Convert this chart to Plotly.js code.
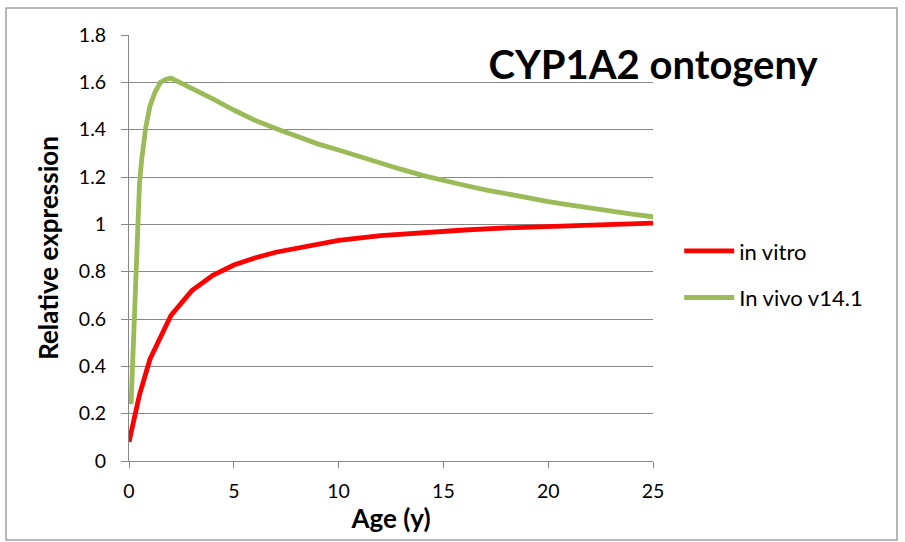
<!DOCTYPE html>
<html>
<head>
<meta charset="utf-8">
<script src="https://cdn.plot.ly/plotly-3.0.1.min.js"></script>
<style>
  body { margin: 0; background: #fff; }
  #chart { width: 905px; height: 542px; }
</style>
</head>
<body>
<div id="chart"></div>
<script>
const vitroAge = [0, 0.5, 1, 2, 3, 4, 5, 6, 7, 8, 9, 10, 12, 14, 16, 18, 20, 22, 25];
const vitroExpr = [0.08, 0.28, 0.43, 0.615, 0.72, 0.785, 0.828, 0.858, 0.882, 0.9, 0.918, 0.932, 0.952, 0.965, 0.976, 0.985, 0.992, 0.998, 1.005];

const vivoAge = [0.1, 0.2, 0.3, 0.4, 0.5, 0.6, 0.8, 1, 1.25, 1.5, 1.75, 2, 3, 4, 5, 6, 7, 8, 9, 10, 11, 12, 13, 14, 15, 16, 17, 18, 19, 20, 21, 22, 23, 24, 25];
const vivoExpr = [0.24, 0.5, 0.75, 1.03, 1.17, 1.27, 1.41, 1.5, 1.56, 1.6, 1.612, 1.618, 1.575, 1.53, 1.483, 1.44, 1.405, 1.37, 1.34, 1.314, 1.285, 1.258, 1.232, 1.207, 1.184, 1.165, 1.146, 1.128, 1.112, 1.096, 1.082, 1.068, 1.055, 1.043, 1.032];

const seriesNames = ["in vitro", "In vivo v14.1"];

const font = "Lato, Carlito, Calibri, sans-serif";
const gridColor = "#878787";

const traces = [
    {
        x: vitroAge,
        y: vitroExpr,
        name: seriesNames[0],
        mode: "lines",
        type: "scatter",
        legendgroup: "a",
        line: {color: "#ff0000", width: 4.8}
    },
    {
        x: vivoAge,
        y: vivoExpr,
        name: seriesNames[1],
        mode: "lines",
        type: "scatter",
        legendgroup: "b",
        line: {color: "#9bbb59", width: 4.8}
    }
];

const layout = {
    width: 905,
    height: 542,
    margin: {l: 129, r: 252, t: 35, b: 81},
    paper_bgcolor: "#fff",
    plot_bgcolor: "#fff",
    font: {family: font, size: 19.5, color: "#000"},
    title: {
        text: "<b>CYP1A2 ontogeny</b>",
        font: {family: font, size: 40, color: "#000"},
        xref: "paper", yref: "paper",
        x: 1, y: 0.93,
        xanchor: "center", yanchor: "middle"
    },
    xaxis: {
        range: [0, 25],
        dtick: 5,
        showgrid: false,
        zeroline: false,
        showline: true,
        linecolor: gridColor,
        linewidth: 1,
        ticks: "outside",
        ticklen: 6,
        tickcolor: gridColor,
        ticklabelstandoff: 7,
        tickfont: {size: 19.5},
        title: {text: "<b>Age (y)</b>", font: {size: 26}, standoff: 8}
    },
    yaxis: {
        range: [0, 1.8],
        dtick: 0.2,
        showgrid: true,
        gridcolor: gridColor,
        gridwidth: 1,
        zeroline: false,
        showline: true,
        linecolor: gridColor,
        linewidth: 1,
        ticks: "outside",
        ticklen: 7,
        tickcolor: gridColor,
        ticklabelstandoff: 11,
        tickfont: {size: 19.5},
        title: {text: "<b>Relative expression</b>", font: {size: 26}, standoff: 12}
    },
    legend: {
        x: 1.05, y: 0.542,
        xanchor: "left", yanchor: "top",
        font: {size: 22},
        tracegroupgap: 15,
        itemwidth: 50,
        bgcolor: "rgba(0,0,0,0)"
    },
    shapes: [{
        type: "rect",
        xref: "paper", yref: "paper",
        x0: -0.2347, x1: 1.4656, y0: -0.1854, y1: 1.0634,
        line: {color: "#a0a0a0", width: 1.5}
    }]
};

Plotly.newPlot("chart", traces, layout, {displayModeBar: false});
</script>
</body>
</html>
